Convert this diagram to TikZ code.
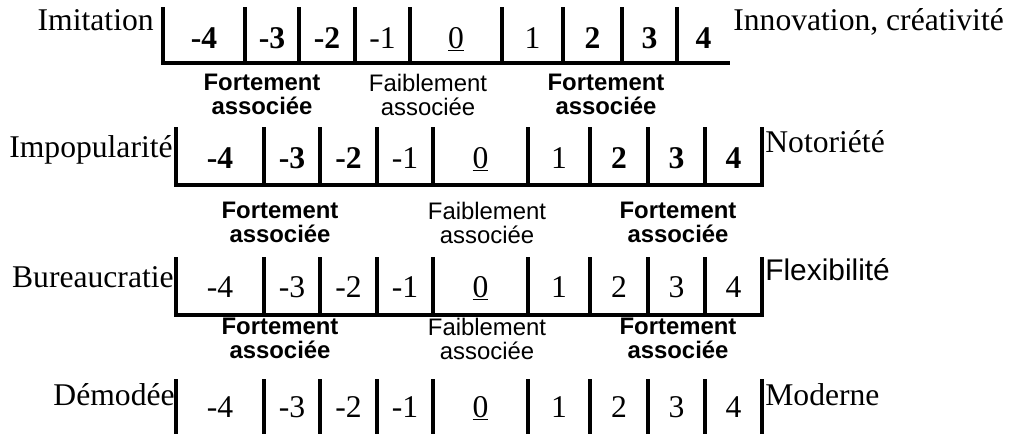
\documentclass[tikz,border=0pt]{standalone}
\usepackage{fontspec}
\setmainfont{Liberation Serif}
\setsansfont{Liberation Sans}

\begin{document}
\begin{tikzpicture}[
  x=0.02cm, y=-0.02cm,
  rule/.style={line width=2.2pt},
  num/.style={anchor=base, inner sep=0pt, font=\fontsize{18}{20}\selectfont},
  side/.style={inner sep=0pt, font=\fontsize{18}{20}\selectfont},
  tag/.style={anchor=north, inner sep=0pt, align=center, font=\sffamily\fontsize{13.6}{13.7}\selectfont},
  strong/.style={tag, font=\sffamily\bfseries\fontsize{13.6}{13.7}\selectfont}
]
\useasboundingbox (0,0) rectangle (1009,434);

% scale 1
\draw[rule] (163,7) -- (163,63) -- (730,63);
\foreach \x in {245,299,355,410,502,563,622,677} \draw[rule] (\x,7) -- (\x,63);
\foreach \v/\x [count=\i] in {\textbf{-4}/204, \textbf{-3}/272, \textbf{-2}/327, -1/382.5, \underline{0}/456,
    1/532.5, \textbf{2}/592.5, \textbf{3}/649.5, \textbf{4}/703.5}
  \node[num] (a\i) at (\x,48) {\v};
\node[side, anchor=base east] (imit) at (154,30) {Imitation};
\node[side, anchor=base west] (innov) at (733,30) {Innovation, créativité};
\node[strong] (a-left) at (262,74) {Fortement\\associée};
\node[tag] (a-mid) at (428,74) {Faiblement\\associée};
\node[strong] (a-right) at (606,74) {Fortement\\associée};

% scale 2
\draw[rule] (176,127) -- (176,185) -- (762,185) -- (762,127);
\foreach \x in {264,320,377,433,528,590,648,705} \draw[rule] (\x,127) -- (\x,185);
\foreach \v/\x [count=\i] in {\textbf{-4}/220, \textbf{-3}/292, \textbf{-2}/348.5, -1/405, \underline{0}/480.5,
    1/559, \textbf{2}/619, \textbf{3}/676.5, \textbf{4}/733.5}
  \node[num] (b\i) at (\x,168) {\v};
\node[side, anchor=base east] (impop) at (173,157) {Impopularité};
\node[side, anchor=base west] (notor) at (765,152) {Notoriété};
\node[strong] (b-left) at (280,202) {Fortement\\associée};
\node[tag] (b-mid) at (487,202) {Faiblement\\associée};
\node[strong] (b-right) at (678,202) {Fortement\\associée};

% scale 3
\draw[rule] (176,257) -- (176,315) -- (762,315) -- (762,257);
\foreach \x in {264,320,377,433,528,590,648,705} \draw[rule] (\x,257) -- (\x,315);
\foreach \v/\x [count=\i] in {-4/220, -3/292, -2/348.5, -1/405, \underline{0}/480.5,
    1/559, 2/619, 3/676.5, 4/733.5}
  \node[num] (c\i) at (\x,297) {\v};
\node[side, anchor=base east] (bureau) at (174,287) {Bureaucratie};
\node[side, anchor=base west, font=\sffamily\fontsize{17}{19}\selectfont] (flex) at (765,280) {Flexibilité};
\node[strong] (c-left) at (280,318) {Fortement\\associée};
\node[tag] (c-mid) at (487,318) {Faiblement\\associée};
\node[strong] (c-right) at (678,318) {Fortement\\associée};

% scale 4
\foreach \x in {176,264,320,377,433,528,590,648,705,762} \draw[rule] (\x,379) -- (\x,434);
\foreach \v/\x [count=\i] in {-4/220, -3/292, -2/348.5, -1/405, \underline{0}/480.5,
    1/559, 2/619, 3/676.5, 4/733.5}
  \node[num] (d\i) at (\x,417) {\v};
\node[side, anchor=base east] (demod) at (175,405) {Démodée};
\node[side, anchor=base west] (modern) at (765,405) {Moderne};

\end{tikzpicture}
\end{document}
